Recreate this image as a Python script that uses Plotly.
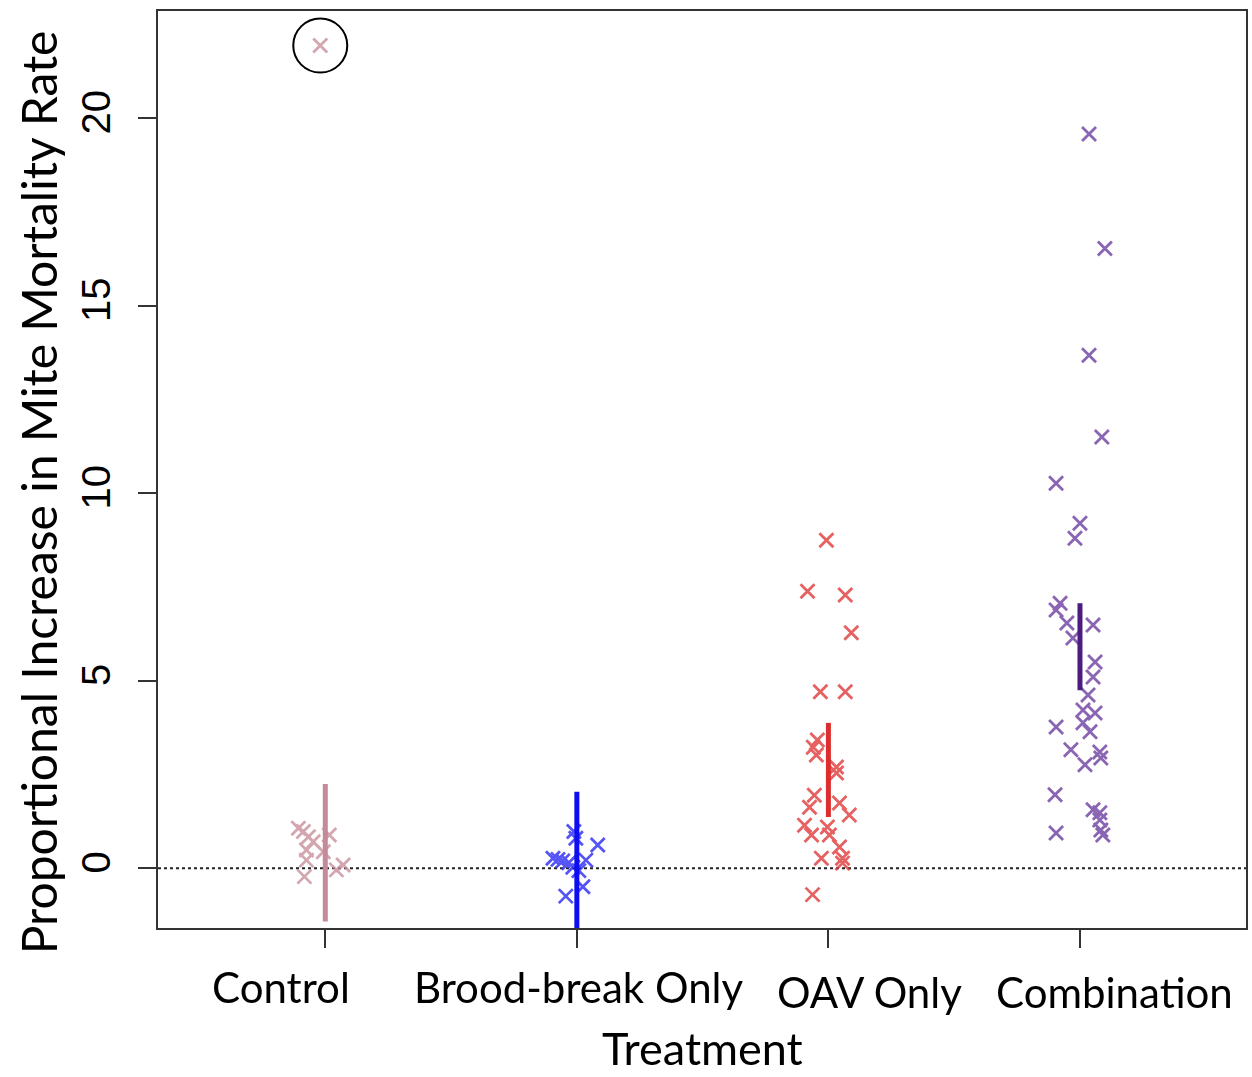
import plotly.graph_objects as go

# ---------------- data ----------------
categories = ["Control", "Brood-break Only", "OAV Only", "Combination"]

control_vals = [1.07, 0.98, 0.84, 0.71, 0.89, 0.49, 0.44, 0.22, 0.09, -0.04, -0.22, 21.94]
control_jit = [-0.107, -0.087, -0.067, -0.048, 0.016, -0.075, -0.008, -0.075, 0.071, 0.044, -0.083, -0.020]

brood_vals = [0.27, 0.24, 0.20, 0.15, 0.98, 0.80, 0.62, 0.22, 0.03, -0.06, -0.49, -0.74]
brood_jit = [-0.095, -0.075, -0.056, -0.032, -0.012, -0.004, 0.083, 0.036, -0.016, 0.008, 0.024, -0.044]

oav_vals = [8.75, 7.39, 7.29, 6.28, 4.71, 4.71, 3.42, 3.23, 3.02, 2.70, 2.54, 1.95,
            1.63, 1.74, 1.42, 1.15, 0.89, 1.10, 0.89, 0.57, 0.27, 0.27, 0.14, -0.70]
oav_jit = [-0.008, -0.083, 0.067, 0.091, -0.032, 0.067, -0.044, -0.060, -0.048, 0.032, 0.032, -0.056,
           -0.075, 0.044, 0.083, -0.095, -0.067, -0.004, 0.004, 0.044, 0.056, -0.028, 0.056, -0.063]

combo_vals = [19.58, 16.53, 13.68, 11.50, 10.27, 9.20, 8.80, 7.07, 6.89, 6.54, 6.49, 6.14,
              5.50, 5.10, 4.62, 4.22, 4.14, 3.88, 3.64, 3.77, 3.16, 3.10, 2.94, 2.76,
              1.96, 1.56, 1.48, 1.29, 1.02, 0.94, 0.89]
combo_jit = [0.036, 0.099, 0.036, 0.087, -0.095, 0.0, -0.020, -0.079, -0.095, -0.052, 0.052, -0.028,
             0.060, 0.052, 0.032, 0.012, 0.060, 0.012, 0.040, -0.095, -0.036, 0.079, 0.083, 0.020,
             -0.099, 0.052, 0.079, 0.079, 0.083, -0.095, 0.091]

# interval bars (lower, upper) per treatment
interval_low = [-1.42, -1.95, 1.37, 4.75]
interval_high = [2.25, 2.04, 3.88, 7.07]

y_ticks = [0, 5, 10, 15, 20]

# ---------------- styles ----------------
point_colors = ["#c8909d", "#2b2bf5", "#e03a3a", "#6c3fa0"]
bar_colors = ["#c48a99", "#0d0df2", "#dc2e2e", "#4b1b80"]
label_shift = [-44, 2, 41, 35]
label_dy = [-0.064, -0.064, -0.070, -0.070]

groups = [(control_vals, control_jit), (brood_vals, brood_jit),
          (oav_vals, oav_jit), (combo_vals, combo_jit)]

fig = go.Figure()

for i, (vals, jit) in enumerate(groups):
    pos = i + 1
    fig.add_trace(go.Scatter(
        x=[pos + j for j in jit], y=vals, mode="markers",
        marker=dict(symbol="x-thin", size=14, color=point_colors[i],
                    line=dict(color=point_colors[i], width=2.8)),
        opacity=0.8, showlegend=False, hoverinfo="y"))

for i in range(4):
    pos = i + 1
    fig.add_trace(go.Scatter(
        x=[pos, pos], y=[interval_low[i], interval_high[i]], mode="lines",
        line=dict(color=bar_colors[i], width=5), showlegend=False, hoverinfo="y"))

# dotted zero line
fig.add_shape(type="line", xref="paper", x0=0, x1=1, yref="y", y0=0, y1=0,
              line=dict(color="#222222", width=2, dash="dot"), layer="below")

# circle around outlier
out_idx = control_vals.index(max(control_vals))
fig.add_shape(type="circle", xref="x", yref="y", xsizemode="pixel", ysizemode="pixel",
              xanchor=1 + control_jit[out_idx], yanchor=control_vals[out_idx],
              x0=-27, x1=27, y0=-27, y1=27, line=dict(color="black", width=2))

# category labels
for i, c in enumerate(categories):
    fig.add_annotation(text=c, x=i + 1, xref="x", y=label_dy[i], yref="paper",
                       xshift=label_shift[i], showarrow=False, yanchor="middle",
                       font=dict(family="Lato", size=42, color="black"))

fig.add_annotation(text="Treatment", x=(703 - 158) / 1090, xref="paper",
                   y=(928 - 1048) / 917.3, yref="paper", showarrow=False,
                   yanchor="middle", xanchor="center",
                   font=dict(family="Lato", size=45, color="black"))

fig.add_annotation(text="Proportional Increase in Mite Mortality Rate",
                   x=(38 - 158) / 1090, xref="paper", y=(928 - 492) / 917.3, yref="paper",
                   showarrow=False, textangle=-90, xanchor="center", yanchor="middle",
                   font=dict(family="Lato", size=48, color="black"))

fig.update_layout(
    width=1252, height=1077,
    margin=dict(l=158, r=4, t=11, b=149),
    plot_bgcolor="white", paper_bgcolor="white",
    xaxis=dict(range=[0.335, 4.66], tickvals=[1, 2, 3, 4], showticklabels=False,
               ticks="outside", ticklen=18, tickwidth=2, tickcolor="#333333",
               showline=True, linecolor="#333333", linewidth=2, mirror=True,
               showgrid=False, zeroline=False),
    yaxis=dict(range=[-1.59, 22.86], tickvals=y_ticks, ticktext=[str(t) for t in y_ticks],
               ticks="outside", ticklen=18, tickwidth=2, tickcolor="#333333",
               tickangle=-90, ticklabelstandoff=12,
               tickfont=dict(family="Liberation Sans", size=40, color="black"),
               showline=True, linecolor="#333333", linewidth=2, mirror=True,
               showgrid=False, zeroline=False),
)

fig.write_html("out.html")
